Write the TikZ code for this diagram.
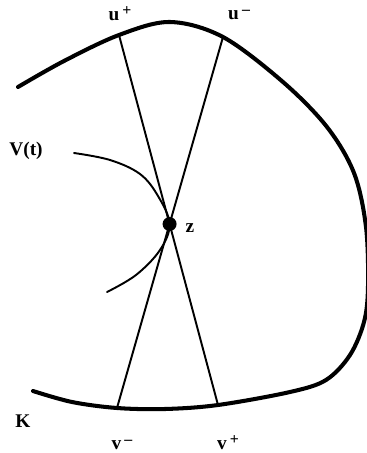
\documentclass[tikz,border=0pt]{standalone}
\usepackage{fontspec}
\setmainfont{Liberation Serif}
\usetikzlibrary{calc}

\newcommand{\sgn}[1]{\,\raisebox{0.55ex}{\fontsize{9}{9}\selectfont #1}}

\begin{document}
\begin{tikzpicture}[
      x=0.02cm, y=-0.02cm,
      font=\fontsize{11}{12}\selectfont\bfseries,
      boundary/.style={line width=2.3pt, line cap=round},
      chord/.style={line width=1.1pt},
      path/.style={line width=1.1pt, line cap=round},
      lbl/.style={inner sep=0pt}
    ]
    \useasboundingbox (0,0) rectangle (366,453);

    % the convex set K
    \draw[boundary] plot[smooth, tension=0.55] coordinates {
      (18,87) (64,61) (119,35) (170,22) (223,37) (283,82) (327,127)
      (354,173) (366,227) (368,287) (364,322) (350,355) (326,380)
      (290,392) (218,405) (165,409) (117,408) (72,402) (33,391)};

    \coordinate (uplus) at (119,35);
    \coordinate (uminus) at (223,37);
    \coordinate (vminus) at (117,408);
    \coordinate (vplus) at (218,405);
    \coordinate (z) at (intersection of uplus--vplus and uminus--vminus);

    \draw[chord] (uplus) -- (vplus);
    \draw[chord] (uminus) -- (vminus);

    % the curve V(t) through z
    \draw[path] plot[smooth, tension=0.6] coordinates {
      (74,153) (110,160) (140,174) (158,196) (z) (160,250) (136,275) (107,292)};

    \fill (z) circle[radius=7];

    \node[lbl] (lz) at (190,228) {z};
    \node[lbl] (luplus) at (120,14) {u\sgn{+}};
    \node[lbl] (luminus) at (239,15) {u\sgn{--}};
    \node[lbl] (lvminus) at (122,445) {v\sgn{--}};
    \node[lbl] (lvplus) at (228,443) {v\sgn{+}};
    \node[lbl] (lV) at (26,151) {V(t)};
    \node[lbl] (lK) at (23,421) {K};
  \end{tikzpicture}
\end{document}
